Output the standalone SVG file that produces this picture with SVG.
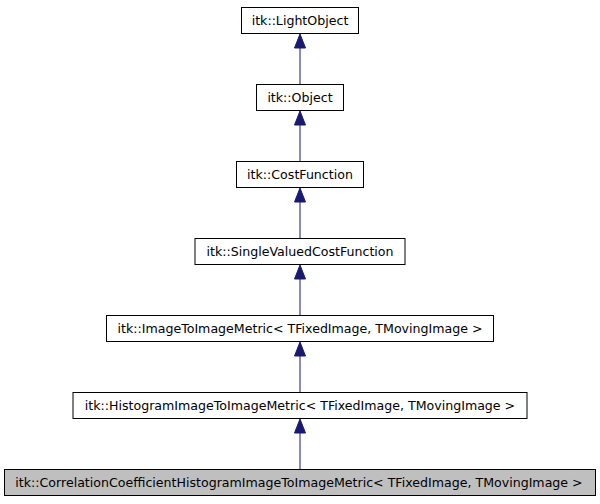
<svg xmlns="http://www.w3.org/2000/svg" width="600" height="504" viewBox="0 0 600 504">
<style>
.box{fill:#ffffff;stroke:#000000;stroke-width:1}
.cur{fill:#bfbfbf;stroke:#000000;stroke-width:1}
.lbl{font-family:"DejaVu Sans",sans-serif;font-size:12.6px;fill:#000000;text-anchor:middle}
.edge{stroke:#191970;stroke-width:1;fill:none}
.head{fill:#191970;stroke:#191970;stroke-width:1}
</style>
<rect width="600" height="504" fill="#ffffff"/>
<g id="connectors">
<line class="edge" x1="300" y1="48" x2="300" y2="84.5"/>
<polygon class="head" points="300,34 305.5,48 294.5,48"/>
<line class="edge" x1="300" y1="125" x2="300" y2="161.5"/>
<polygon class="head" points="300,111 305.5,125 294.5,125"/>
<line class="edge" x1="300" y1="202" x2="300" y2="238.5"/>
<polygon class="head" points="300,188 305.5,202 294.5,202"/>
<line class="edge" x1="300" y1="279" x2="300" y2="315.5"/>
<polygon class="head" points="300,265 305.5,279 294.5,279"/>
<line class="edge" x1="300" y1="356" x2="300" y2="392.5"/>
<polygon class="head" points="300,342 305.5,356 294.5,356"/>
<line class="edge" x1="300" y1="433" x2="300" y2="469.5"/>
<polygon class="head" points="300,419 305.5,433 294.5,433"/>
</g>
<g id="node_lightobject">
<rect class="box" x="241.5" y="7.5" width="117" height="26"/>
<text class="lbl" x="300" y="25">itk::LightObject</text>
</g>
<g id="node_object">
<rect class="box" x="256.5" y="84.5" width="87" height="26"/>
<text class="lbl" x="300" y="102">itk::Object</text>
</g>
<g id="node_costfunction">
<rect class="box" x="236.5" y="161.5" width="127" height="26"/>
<text class="lbl" x="300" y="179">itk::CostFunction</text>
</g>
<g id="node_singlevalued">
<rect class="box" x="195" y="238.5" width="210" height="26"/>
<text class="lbl" x="300" y="256">itk::SingleValuedCostFunction</text>
</g>
<g id="node_imagetoimage">
<rect class="box" x="106.5" y="315.5" width="387" height="26"/>
<text class="lbl" x="300" y="333">itk::ImageToImageMetric&lt; TFixedImage, TMovingImage &gt;</text>
</g>
<g id="node_histogram">
<rect class="box" x="73" y="392.5" width="454" height="26"/>
<text class="lbl" x="300" y="410">itk::HistogramImageToImageMetric&lt; TFixedImage, TMovingImage &gt;</text>
</g>
<g id="node_correlation">
<rect class="cur" x="4.5" y="469.5" width="591" height="26"/>
<text class="lbl" x="299" y="487">itk::CorrelationCoefficientHistogramImageToImageMetric&lt; TFixedImage, TMovingImage &gt;</text>
</g>
</svg>
